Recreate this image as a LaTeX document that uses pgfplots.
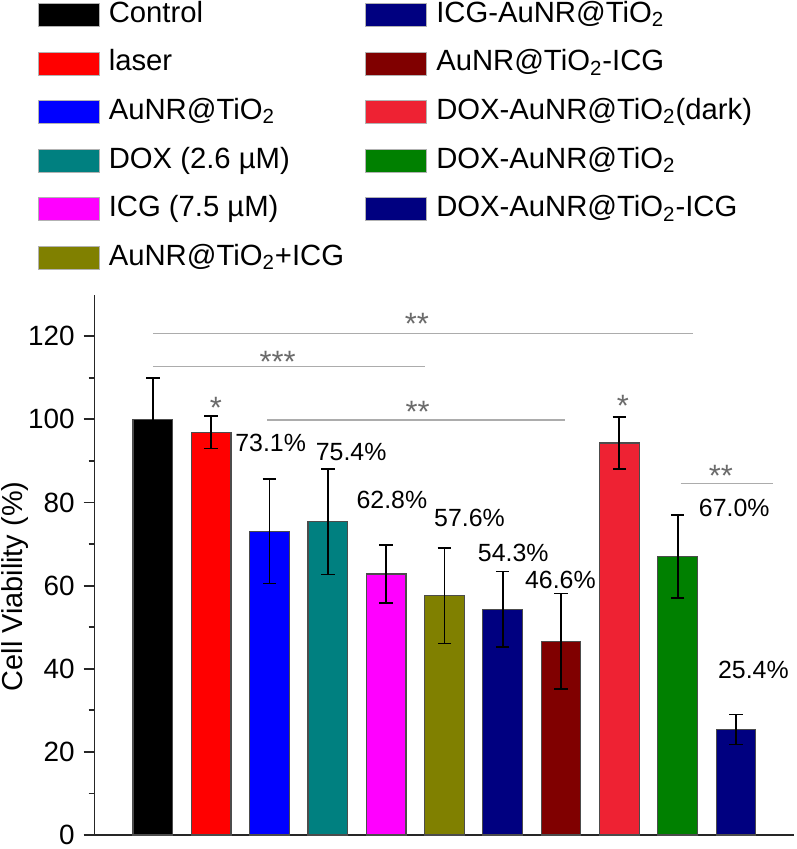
\documentclass[border=0pt]{standalone}
\usepackage{fontspec}
\setmainfont{Liberation Sans}
\usepackage{pgfplots}
\pgfplotsset{compat=1.18}

\definecolor{cControl}{HTML}{000000}
\definecolor{cLaser}{HTML}{FF0000}
\definecolor{cAuNR}{HTML}{0000FF}
\definecolor{cDOX}{HTML}{008080}
\definecolor{cICG}{HTML}{FF00FF}
\definecolor{cMix}{HTML}{808000}
\definecolor{cICGAu}{HTML}{000080}
\definecolor{cAuICG}{HTML}{800000}
\definecolor{cDark}{HTML}{EE2233}
\definecolor{cDOXAu}{HTML}{008000}
\definecolor{cAll}{HTML}{000080}

\pgfplotsset{
  bars/.style={ybar, bar shift=0pt, bar width=0.68, draw=black!70, line width=0.6pt,
    error bars/y dir=both, error bars/y explicit,
    error bars/error bar style={black, line width=0.9pt},
    error bars/error mark options={black, rotate=90, mark size=3.4pt, line width=0.9pt}},
  legimg/.style={legend image code/.code={\path[##1] (0pt,-5.75pt) rectangle (30.5pt,5.75pt);}},
  legbox/.style={legend style={draw=none, fill=none, inner sep=0pt, outer sep=0pt,
    anchor=north west, row sep=9.9pt, column sep=4.75pt,
    nodes={inner sep=0pt, text height=11pt, text depth=3.5pt, font=\fontsize{14.7}{17}\selectfont},
    cells={anchor=west}}, legend cell align=left},
}

\newcommand{\pct}[3]{\node[font=\fontsize{12.5}{14}\selectfont, inner sep=0pt] at (axis cs:#1,#2) {#3};}
\newcommand{\stars}[3]{\node[font=\fontsize{15.5}{17}\selectfont, text=black!58, inner sep=0pt, yshift=-3.4pt] at (axis cs:#1,#2) {#3};}

\begin{document}
\begin{tikzpicture}
\begin{axis}[
  scale only axis, width=351.5pt, height=271.5pt,
  xmin=0, xmax=12, ymin=0, ymax=130,
  axis x line*=bottom, axis y line*=left,
  axis line style={-, line width=0.9pt, black!85},
  xtick=\empty,
  ytick={0,20,...,120}, minor y tick num=1,
  tick align=outside, major tick length=5.5pt, minor tick length=3pt,
  tick style={line width=0.9pt, black!85},
  yticklabel style={font=\fontsize{14}{16}\selectfont, xshift=-1pt},
  /pgf/number format/assume math mode=true,
  ylabel={Cell Viability (\%)},
  ylabel style={font=\fontsize{14.5}{17}\selectfont, at={(axis description cs:-0.1138,0.46)}, anchor=center},
  legbox,
  legend style={at={(axis description cs:-0.08108,1.5442)}},
  clip=false,
]
\addplot[bars, fill=cControl, forget plot] coordinates {(1,100) +- (0,9.9)};
\addplot[bars, fill=cLaser, forget plot] coordinates {(2,96.9) +- (0,3.9)};
\addplot[bars, fill=cAuNR, forget plot] coordinates {(3,73.1) +- (0,12.6)};
\addplot[bars, fill=cDOX, forget plot] coordinates {(4,75.4) +- (0,12.7)};
\addplot[bars, fill=cICG, forget plot] coordinates {(5,62.8) +- (0,7.0)};
\addplot[bars, fill=cMix, forget plot] coordinates {(6,57.6) +- (0,11.5)};
\addplot[bars, fill=cICGAu, forget plot] coordinates {(7,54.3) +- (0,9.1)};
\addplot[bars, fill=cAuICG, forget plot] coordinates {(8,46.6) +- (0,11.5)};
\addplot[bars, fill=cDark, forget plot] coordinates {(9,94.3) +- (0,6.2)};
\addplot[bars, fill=cDOXAu, forget plot] coordinates {(10,67.0) +- (0,10.0)};
\addplot[bars, fill=cAll, forget plot] coordinates {(11,25.4) +- (0,3.6)};

\addlegendimage{legimg, fill=cControl, draw=gray!60}
\addlegendentry{Control}
\addlegendimage{legimg, fill=cLaser, draw=gray!60}
\addlegendentry{laser}
\addlegendimage{legimg, fill=cAuNR, draw=gray!60}
\addlegendentry{AuNR@TiO\textsubscript{2}}
\addlegendimage{legimg, fill=cDOX, draw=gray!60}
\addlegendentry{DOX (2.6 µM)}
\addlegendimage{legimg, fill=cICG, draw=gray!60}
\addlegendentry{ICG (7.5 µM)}
\addlegendimage{legimg, fill=cMix, draw=gray!60}
\addlegendentry{AuNR@TiO\textsubscript{2}+ICG}

% significance lines
\draw[gray!65, line width=0.8pt] (axis cs:1,120.6) -- (axis cs:10.26,120.6);
\draw[gray!65, line width=0.8pt] (axis cs:1,112.7) -- (axis cs:5.66,112.7);
\draw[gray!65, line width=0.8pt] (axis cs:2.96,99.9) -- (axis cs:8.07,99.9);
\draw[gray!65, line width=0.8pt] (axis cs:10.05,84.6) -- (axis cs:11.64,84.6);
\stars{5.53}{124.5}{**}
\stars{3.14}{115.4}{***}
\stars{5.54}{103.5}{**}
\stars{10.74}{88.1}{**}
\stars{2.08}{104.5}{*}
\stars{9.06}{104.9}{*}

% percentages
\pct{3.02}{94.4}{73.1\%}
\pct{4.40}{92.2}{75.4\%}
\pct{5.10}{80.5}{62.8\%}
\pct{6.43}{76.4}{57.6\%}
\pct{7.18}{67.8}{54.3\%}
\pct{7.99}{61.3}{46.6\%}
\pct{10.97}{78.6}{67.0\%}
\pct{11.30}{39.8}{25.4\%}
\end{axis}

\begin{axis}[
  scale only axis, width=351.5pt, height=271.5pt,
  xmin=0, xmax=1, ymin=0, ymax=1, hide axis,
  legbox,
  legend style={at={(axis description cs:0.38691,1.5442)}},
]
\addlegendimage{legimg, fill=cICGAu, draw=gray!60}
\addlegendentry{ICG-AuNR@TiO\textsubscript{2}}
\addlegendimage{legimg, fill=cAuICG, draw=gray!60}
\addlegendentry{AuNR@TiO\textsubscript{2}-ICG}
\addlegendimage{legimg, fill=cDark, draw=gray!60}
\addlegendentry{DOX-AuNR@TiO\textsubscript{2}(dark)}
\addlegendimage{legimg, fill=cDOXAu, draw=gray!60}
\addlegendentry{DOX-AuNR@TiO\textsubscript{2}}
\addlegendimage{legimg, fill=cAll, draw=gray!60}
\addlegendentry{DOX-AuNR@TiO\textsubscript{2}-ICG}
\end{axis}

\pgfresetboundingbox
\useasboundingbox (-47.5pt,-7pt) rectangle (352.5pt,419.5pt);
\end{tikzpicture}
\end{document}
